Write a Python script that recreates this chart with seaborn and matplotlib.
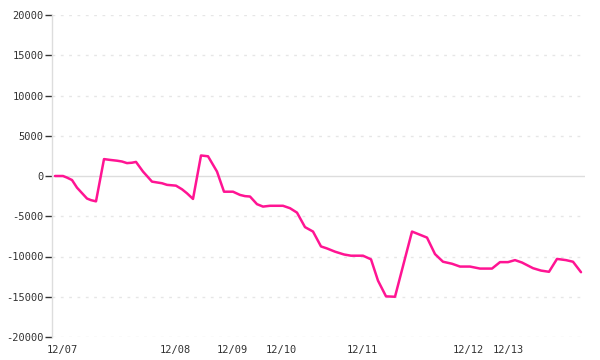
import matplotlib
matplotlib.use("Agg")
import matplotlib.pyplot as plt
import seaborn as sns
import pandas as pd

# sample positions along the x axis and the plotted values
x_pos = [0, 8, 12, 17, 22, 32, 36, 41, 49, 55, 62, 67, 72, 77, 81, 88, 97, 102, 107, 112,
         121, 127, 132, 138, 146, 153, 162, 169, 178, 185, 190, 195, 202, 208, 215, 228,
         235, 242, 250, 258, 266, 272, 280, 289, 296, 308, 316, 323, 331, 340, 357, 366,
         372, 380, 388, 397, 405, 415, 425, 437, 445, 453, 460, 467, 478, 486, 494, 502,
         511, 518, 526]
values = [0, 0, -200, -500, -1450, -2800, -3000, -3150, 2100, 2000, 1900, 1800, 1600, 1650,
          1750, 550, -700, -800, -900, -1100, -1200, -1650, -2150, -2850, 2550, 2450, 550,
          -1950, -1950, -2350, -2500, -2550, -3500, -3800, -3700, -3700, -4000, -4550, -6350,
          -6900, -8750, -9000, -9400, -9750, -9900, -9900, -10350, -13000, -14950, -15000,
          -6900, -7350, -7650, -9700, -10650, -10900, -11250, -11250, -11500, -11500, -10700,
          -10700, -10450, -10750, -11450, -11750, -11900, -10300, -10450, -10650, -11950]

tick_labels = ["12/07", "12/08", "12/09", "12/10", "12/11", "12/12", "12/13"]
tick_pos = [7, 120, 177, 226, 307, 413, 453]
y_ticks = [-20000, -15000, -10000, -5000, 0, 5000, 10000, 15000, 20000]

df = pd.DataFrame({"x": x_pos, "y": values})

sns.set_theme(style="white")
plt.rcParams["font.family"] = ["DejaVu Sans Mono"]
plt.rcParams["axes.unicode_minus"] = False

fig = plt.figure(figsize=(6, 3.6), dpi=100)
ax = fig.add_axes([52 / 600, 1 - 337 / 360, (585 - 52) / 600, (337 - 15) / 360])

ax.set_ylim(-20000, 20000)
ax.set_xlim(-3, 530)
ax.set_yticks(y_ticks)
ax.set_yticklabels([str(v) for v in y_ticks])
ax.set_xticks(tick_pos)
ax.set_xticklabels(tick_labels)

for v in y_ticks:
    if v == 0:
        ax.axhline(v, color="#dddddd", lw=1, zorder=1)
    else:
        ax.axhline(v, color="#e6e6e6", lw=1, ls=(0, (2, 4)), zorder=1)

sns.lineplot(data=df, x="x", y="y", ax=ax, color="#ff1493", lw=1.8, zorder=3)

for s in ["top", "right", "bottom"]:
    ax.spines[s].set_visible(False)
ax.spines["left"].set_color("#dddddd")
ax.spines["left"].set_linewidth(1)
ax.spines["left"].set_bounds(-20000, 20000)

ax.tick_params(axis="y", length=5, width=1, color="#333333", labelsize=7.5,
               labelcolor="#333333", pad=1, left=True)
ax.tick_params(axis="x", length=0, labelsize=7.5, labelcolor="#333333", pad=6)
ax.set_xlabel("")
ax.set_ylabel("")

fig.savefig("out.png", dpi=100)
